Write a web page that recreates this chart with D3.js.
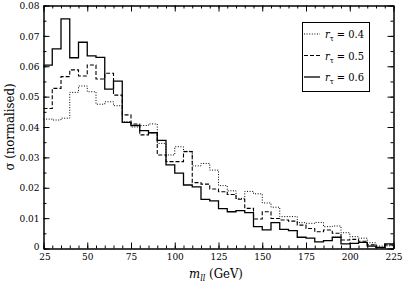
<!DOCTYPE html>
<html>
<head>
<meta charset="utf-8">
<script src="https://cdn.jsdelivr.net/npm/d3@7"></script>
<style>
  body { margin: 0; background: #fff; }
</style>
</head>
<body>
<script>
var width = 403,
    height = 284;

var margin = {left: 43.5, right: 9.5, top: 5.5, bottom: 35.5};
var serif = "'DejaVu Serif Condensed', 'DejaVu Serif', serif";

// bin lower edges (GeV), 5 GeV wide
var binStarts = [25, 30, 35, 40, 45, 50, 55, 60, 65, 70,
                 75, 80, 85, 90, 95, 100, 105, 110, 115, 120,
                 125, 130, 135, 140, 145, 150, 155, 160, 165, 170,
                 175, 180, 185, 190, 195, 200, 205, 210, 215, 220];
var binWidth = 5;

var sigma04 = [0.0426, 0.0423, 0.0429, 0.0514, 0.0535, 0.0516, 0.0475, 0.0483, 0.0470, 0.0417,
               0.0400, 0.0405, 0.0410, 0.0346, 0.0308, 0.0335, 0.0320, 0.0272, 0.0280, 0.0258,
               0.0207, 0.0190, 0.0165, 0.0188, 0.0180, 0.0150, 0.0136, 0.0105, 0.0105, 0.0085,
               0.0083, 0.0086, 0.0072, 0.0074, 0.0052, 0.0039, 0.0034, 0.0019, 0.0008, 0.0009];

var sigma05 = [0.0461, 0.0527, 0.0566, 0.0588, 0.0568, 0.0604, 0.0558, 0.0577, 0.0505, 0.0440,
               0.0410, 0.0374, 0.0381, 0.0308, 0.0286, 0.0286, 0.0319, 0.0217, 0.0212, 0.0196,
               0.0187, 0.0178, 0.0162, 0.0132, 0.0097, 0.0121, 0.0099, 0.0094, 0.0090, 0.0077,
               0.0066, 0.0055, 0.0061, 0.0050, 0.0028, 0.0030, 0.0024, 0.0012, 0.0003, 0.0012];

var sigma06 = [0.0604, 0.0657, 0.0756, 0.0628, 0.0679, 0.0634, 0.0629, 0.0525, 0.0551, 0.0415,
               0.0405, 0.0388, 0.0381, 0.0356, 0.0275, 0.0248, 0.0209, 0.0203, 0.0162, 0.0157,
               0.0131, 0.0121, 0.0125, 0.0118, 0.0072, 0.0061, 0.0085, 0.0063, 0.0059, 0.0037,
               0.0034, 0.0022, 0.0026, 0.0037, 0.0015, 0.0017, 0.0020, 0.0008, 0.0004, 0.0015];

var seriesLabels = ["0.4", "0.5", "0.6"];
var seriesDash = ["1,1.6", "4,2", null];
var seriesWidth = [1, 1.1, 1.3];

var xTicks = [25, 50, 75, 100, 125, 150, 175, 200, 225],
    yTicks = [0, 0.01, 0.02, 0.03, 0.04, 0.05, 0.06, 0.07, 0.08];

var xRange = d3.scaleLinear().domain([25, 225]).range([margin.left, width - margin.right]),
    yRange = d3.scaleLinear().domain([0, 0.08]).range([height - margin.bottom, margin.top]);

var svg = d3.select("body").append("svg")
    .attr("width", width)
    .attr("height", height)
    .style("font-family", serif);

// histogram lines
var stepLine = d3.line()
    .x(function(d) { return xRange(d[0]); })
    .y(function(d) { return yRange(d[1]); })
    .curve(d3.curveStepAfter);

var allSeries = [sigma04, sigma05, sigma06];
allSeries.forEach(function(vals, i) {
    var pts = binStarts.map(function(b, j) { return [b, vals[j]]; });
    pts.push([binStarts[binStarts.length - 1] + binWidth, vals[vals.length - 1]]);
    svg.append("path")
        .datum(pts)
        .attr("fill", "none")
        .attr("stroke", "#000")
        .attr("stroke-width", seriesWidth[i])
        .attr("stroke-dasharray", seriesDash[i])
        .attr("d", stepLine);
});

// axes, ticks point inward on all four sides
var minorX = d3.range(25, 226, 5),
    minorY = d3.range(0, 0.0801, 0.005);

function styleAxis(g) {
    g.attr("font-family", null).attr("font-size", null);
    g.selectAll("path.domain").attr("stroke", "#000").attr("stroke-width", 1);
    g.selectAll("line").attr("stroke", "#000").attr("stroke-width", 1);
    g.selectAll("text").style("font-family", serif).attr("font-size", 10).attr("fill", "#000");
}

var gBottom = svg.append("g")
    .attr("transform", "translate(0," + yRange(0) + ")")
    .call(d3.axisBottom(xRange).tickValues(xTicks).tickSizeInner(-6).tickSizeOuter(0).tickPadding(4).tickFormat(d3.format("d")))
    .call(styleAxis);
svg.append("g")
    .attr("transform", "translate(0," + yRange(0) + ")")
    .call(d3.axisBottom(xRange).tickValues(minorX).tickSizeInner(-3).tickSizeOuter(0).tickFormat(""))
    .call(styleAxis);

svg.append("g")
    .attr("transform", "translate(0," + yRange(0.08) + ")")
    .call(d3.axisTop(xRange).tickValues(xTicks).tickSizeInner(-6).tickSizeOuter(0).tickFormat(""))
    .call(styleAxis);
svg.append("g")
    .attr("transform", "translate(0," + yRange(0.08) + ")")
    .call(d3.axisTop(xRange).tickValues(minorX).tickSizeInner(-3).tickSizeOuter(0).tickFormat(""))
    .call(styleAxis);

var gLeft = svg.append("g")
    .attr("transform", "translate(" + xRange(25) + ",0)")
    .call(d3.axisLeft(yRange).tickValues(yTicks).tickSizeInner(-6).tickSizeOuter(0).tickPadding(4)
        .tickFormat(function(d) { return d === 0 ? "0" : d3.format(".2f")(d); }))
    .call(styleAxis);
svg.append("g")
    .attr("transform", "translate(" + xRange(25) + ",0)")
    .call(d3.axisLeft(yRange).tickValues(minorY).tickSizeInner(-3).tickSizeOuter(0).tickFormat(""))
    .call(styleAxis);

svg.append("g")
    .attr("transform", "translate(" + xRange(225) + ",0)")
    .call(d3.axisRight(yRange).tickValues(yTicks).tickSizeInner(-6).tickSizeOuter(0).tickFormat(""))
    .call(styleAxis);
svg.append("g")
    .attr("transform", "translate(" + xRange(225) + ",0)")
    .call(d3.axisRight(yRange).tickValues(minorY).tickSizeInner(-3).tickSizeOuter(0).tickFormat(""))
    .call(styleAxis);

// the zero label sits low and left like the original
gLeft.selectAll(".tick").filter(function(d) { return d === 0; }).select("text").attr("dy", "0.1em");
gBottom.selectAll(".tick").filter(function(d) { return d === 25; }).select("text").attr("dx", "0.1em");

// axis titles
var xTitle = svg.append("text")
    .attr("x", 216)
    .attr("y", 278)
    .attr("text-anchor", "middle")
    .attr("font-size", 13);
xTitle.append("tspan").attr("font-style", "italic").text("m");
xTitle.append("tspan").attr("font-style", "italic").attr("font-size", 9).attr("dy", 3).text("ll");
xTitle.append("tspan").attr("dy", -3).text(" (GeV)");

svg.append("text")
    .attr("transform", "translate(14," + ((margin.top + height - margin.bottom) / 2) + ") rotate(-90)")
    .attr("text-anchor", "middle")
    .attr("font-size", 13)
    .text("σ (normalised)");

// legend
var legend = svg.append("g");
legend.append("rect")
    .attr("x", 302.5)
    .attr("y", 22.5)
    .attr("width", 67)
    .attr("height", 69)
    .attr("fill", "#fff")
    .attr("stroke", "#000")
    .attr("stroke-width", 1);

seriesLabels.forEach(function(lab, i) {
    var yy = 34 + i * 21.5;
    legend.append("line")
        .attr("x1", 304)
        .attr("x2", 320)
        .attr("y1", yy)
        .attr("y2", yy)
        .attr("stroke", "#000")
        .attr("stroke-width", seriesWidth[i])
        .attr("stroke-dasharray", seriesDash[i]);
    var t = legend.append("text")
        .attr("x", 325)
        .attr("y", yy + 4)
        .attr("font-size", 11);
    t.append("tspan").attr("font-style", "italic").text("r");
    t.append("tspan").attr("font-size", 8).attr("dy", 3).text("τ");
    t.append("tspan").attr("dy", -3).text(" = " + lab);
});
</script>
</body>
</html>
